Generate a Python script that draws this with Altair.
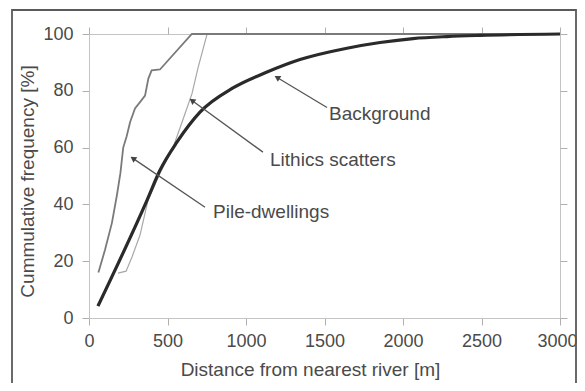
import math
import altair as alt
import pandas as pd

# ---- data ----
pile_x = [60, 102, 146, 178, 200, 218, 240, 262, 293, 325, 357, 378, 399, 452, 655, 3000]
pile_y = [16, 24, 33.5, 43.3, 51, 60, 64, 69, 73.8, 76, 78.3, 84.3, 87.2, 87.5, 100, 100]

lith_x = [185, 236, 274, 325, 376, 452, 535, 580, 612, 656, 694, 752, 3000]
lith_y = [15.8, 16.5, 21.5, 29.2, 41.5, 51, 60, 67, 72, 79, 88, 100, 100]

bg_x = [57, 370, 452, 561, 707, 917, 1134, 1344, 1643, 1854, 2064, 2280, 2490, 3000]
bg_y = [4.2, 41.5, 52, 62, 72.5, 81, 86.6, 91, 95, 97, 98.4, 99.1, 99.5, 100]

labels = ["Background", "Lithics scatters", "Pile-dwellings"]
label_x = [1529, 1153, 790]
label_y = [71.7, 55.5, 37.3]
arrow_tail_x = [1516, 1108, 739]
arrow_tail_y = [74.1, 58.4, 39]
arrow_head_x = [1198, 656, 280]
arrow_head_y = [84.7, 76.6, 56.2]

x_ticks = [0, 500, 1000, 1500, 2000, 2500, 3000]
y_ticks = [0, 20, 40, 60, 80, 100]

W, H = 471, 284
X_MAX, Y_MAX = 3000, 100
FONT = "Liberation Sans"
TXT = "#4a4a4a"

xsc = alt.Scale(domain=[0, X_MAX], nice=False, zero=False)
ysc = alt.Scale(domain=[0, Y_MAX], nice=False)

pile_df = pd.DataFrame({"x": pile_x, "y": pile_y})
lith_df = pd.DataFrame({"x": lith_x, "y": lith_y})
bg_df = pd.DataFrame({"x": bg_x, "y": bg_y})

angles = []
for tx, ty, hx, hy in zip(arrow_tail_x, arrow_tail_y, arrow_head_x, arrow_head_y):
    dx = (hx - tx) * W / X_MAX
    dy = -(hy - ty) * H / Y_MAX
    angles.append(math.degrees(math.atan2(dx, -dy)) % 360)

ann_df = pd.DataFrame({
    "label": labels, "lx": label_x, "ly": label_y,
    "tx": arrow_tail_x, "ty": arrow_tail_y,
    "hx": arrow_head_x, "hy": arrow_head_y, "ang": angles,
})

main_x_axis = alt.Axis(orient="bottom", values=x_ticks, format="d", title="Distance from nearest river [m]",
                       titleX=221, titleY=51, titleBaseline="middle", labelPadding=7,
                       labelFlush=False,
                       labelOffset={"condition": {"test": "datum.value == 3000", "value": -3}, "value": 0})
main_y_axis = alt.Axis(orient="left", values=y_ticks, format="d", title="Cummulative frequency [%]",
                       titleX=-62, titleY=147, titleBaseline="middle", labelPadding=9)

bg_line = alt.Chart(bg_df).mark_line(color="#2a2a2a", strokeWidth=3.2, interpolate="monotone").encode(
    x=alt.X("x:Q", scale=xsc, axis=main_x_axis),
    y=alt.Y("y:Q", scale=ysc, axis=main_y_axis),
)

sec = alt.Chart(bg_df).mark_line(opacity=0).encode(
    x=alt.X("x:Q", scale=xsc, axis=alt.Axis(orient="top", values=x_ticks, labels=False, title="", domain=False)),
    y=alt.Y("y:Q", scale=ysc, axis=alt.Axis(orient="right", values=y_ticks, labels=False, title="", domain=False)),
)

pile_line = alt.Chart(pile_df).mark_line(color="#7a7a7a", strokeWidth=1.8).encode(
    x=alt.X("x:Q", scale=xsc, axis=None), y=alt.Y("y:Q", scale=ysc, axis=None))
lith_line = alt.Chart(lith_df).mark_line(color="#a8a8a8", strokeWidth=1.2).encode(
    x=alt.X("x:Q", scale=xsc, axis=None), y=alt.Y("y:Q", scale=ysc, axis=None))

arrows = alt.Chart(ann_df).mark_rule(color="#555555", strokeWidth=1.3).encode(
    x=alt.X("tx:Q", scale=xsc, axis=None), y=alt.Y("ty:Q", scale=ysc, axis=None),
    x2="hx:Q", y2="hy:Q")
heads = alt.Chart(ann_df).mark_point(shape="triangle-up", filled=True, color="#444444", size=45, opacity=1).encode(
    x=alt.X("hx:Q", scale=xsc, axis=None), y=alt.Y("hy:Q", scale=ysc, axis=None),
    angle=alt.Angle("ang:Q", scale=None))
texts = alt.Chart(ann_df).mark_text(align="left", baseline="middle", font=FONT, fontSize=19, color=TXT).encode(
    x=alt.X("lx:Q", scale=xsc, axis=None), y=alt.Y("ly:Q", scale=ysc, axis=None), text="label:N")

frame = alt.Chart(pd.DataFrame({"a": [0]})).mark_rect(fill="transparent", stroke="#5a5a5a", strokeWidth=1.8).encode(
    x=alt.value(-77), x2=alt.value(487), y=alt.value(-24), y2=alt.value(420))

chart = alt.layer(frame, lith_line, pile_line, bg_line, sec, arrows, heads, texts).resolve_axis(
    x="independent", y="independent"
).properties(
    width=W, height=H,
    autosize=alt.AutoSizeParams(type="none"),
    padding={"left": 81, "top": 26, "right": 17, "bottom": 65},
    background="white",
).configure_view(stroke="#c4c4c4", strokeWidth=1).configure_axis(
    labelFont=FONT, titleFont=FONT, labelFontSize=18, titleFontSize=19,
    labelColor=TXT, titleColor=TXT, titleFontWeight="normal",
    domainColor="#c4c4c4", tickColor="#b0b0b0", tickSize=7, grid=False,
)

chart.save("out.html", embed_options={"renderer": "svg", "actions": False})
